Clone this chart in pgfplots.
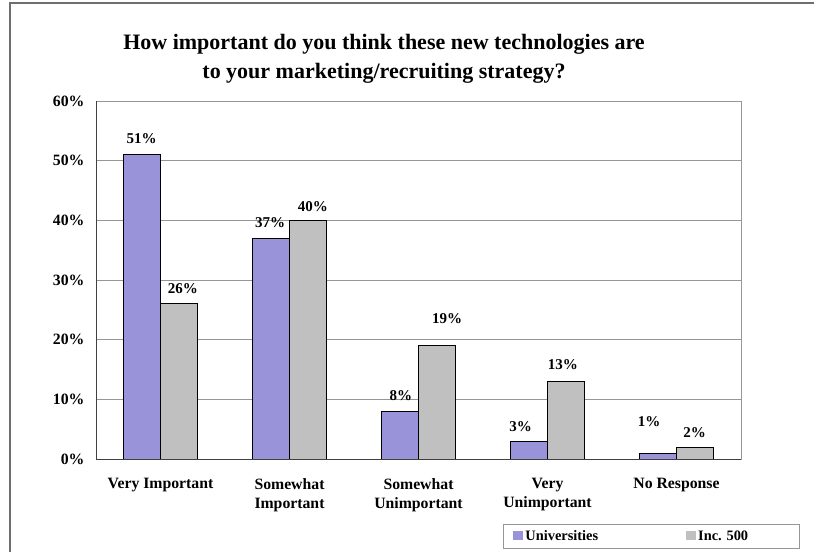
\documentclass[border=0pt]{standalone}
\usepackage{fontspec}
\setmainfont{Liberation Serif}
\usepackage{pgfplots}
\pgfplotsset{compat=1.18}
\definecolor{univ}{RGB}{153,148,218}
\definecolor{inc}{RGB}{192,192,192}
\definecolor{gridc}{RGB}{150,150,150}
\definecolor{framec}{RGB}{110,110,110}
\begin{document}
\begin{tikzpicture}[x=1pt,y=1pt]
\useasboundingbox (0,0) rectangle (814,552);
\draw[framec, line width=1.6pt] (10,0) -- (10,549) -- (814,549);
\node[font=\bfseries\fontsize{22}{29}\selectfont, align=center] at (384,493) {How important do you think these new technologies are\\to your marketing/recruiting strategy?};
\begin{axis}[
  at={(96pt,93pt)}, anchor=south west,
  width=645pt, height=358pt, scale only axis,
  xmin=-0.5, xmax=4.5, ymin=0, ymax=60,
  ytick={0,10,20,30,40,50,60},
  yticklabel={\pgfmathprintnumber{\tick}\%},
  /pgf/number format/assume math mode=true,
  xtick={0,1,2,3,4},
  xticklabels={Very Important, Somewhat\\Important, Somewhat\\Unimportant, Very\\Unimportant, No Response},
  xticklabel style={align=center, yshift=-16pt},
  ticklabel style={font=\bfseries\fontsize{15.75}{19}\selectfont},
  yticklabel style={xshift=-8pt},
  major tick length=0pt,
  ymajorgrids, grid style={gridc, line width=0.8pt},
  axis line style={gridc, line width=0.8pt},
  legend style={at={(0.631,-0.1816)}, anchor=north west, draw=gridc, line width=0.8pt,
    font=\bfseries\fontsize{14.4}{16}\selectfont, inner xsep=10pt, inner ysep=4pt},
  legend columns=2,
  legend cell align=left,
  /tikz/every even column/.append style={column sep=86pt},
  legend image code/.code={\fill[#1, draw=none] (0pt,-4pt) rectangle (10pt,5pt);},
]
\addplot[ybar, bar width=37pt, bar shift=-18.5pt, fill=univ, draw=black, line width=0.8pt]
  coordinates {(0,51) (1,37) (2,8) (3,3) (4,1)};
\addlegendentry{Universities}
\addplot[ybar, bar width=37pt, bar shift=18.5pt, fill=inc, draw=black, line width=0.8pt]
  coordinates {(0,26) (1,40) (2,19) (3,13) (4,2)};
\addlegendentry{Inc. 500\hspace*{39pt}}
\addplot[draw=none, mark=none, forget plot, nodes near coords, point meta=explicit symbolic,
  every node near coord/.append style={anchor=center, font=\bfseries\fontsize{15}{16}\selectfont}]
  coordinates {(-0.147,53.7) [51\%] (0.174,28.5) [26\%] (0.849,39.6) [37\%] (1.182,42.3) [40\%]
  (1.864,10.6) [8\%] (2.221,23.6) [19\%] (2.791,5.5) [3\%] (3.12,15.75) [13\%]
  (3.787,6.25) [1\%] (4.140,4.5) [2\%]};
\draw[black!75, line width=0.9pt] (axis cs:-0.5,60) -- (axis cs:-0.5,0) -- (axis cs:4.5,0);
\end{axis}
\end{tikzpicture}
\end{document}
